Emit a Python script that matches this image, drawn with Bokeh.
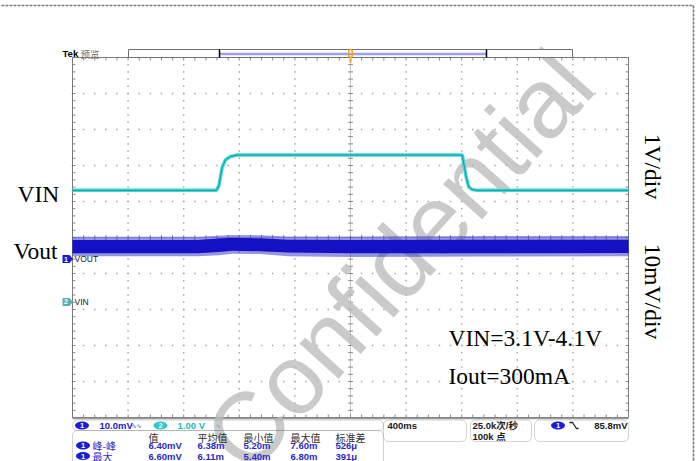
import math
from bokeh.plotting import figure
from bokeh.models import Range1d, BoxAnnotation
from bokeh.core.properties import value
from bokeh.embed import file_html
from bokeh.resources import INLINE

# ---------------- values ----------------
# CH2 : VIN (V) versus time (s)
vin_t = [0.0, 1.036, 1.053, 1.077, 1.101, 1.137, 1.185, 1.30, 2.804, 2.815, 2.832, 2.851, 2.876, 2.911, 4.0]
vin_v = [3.10, 3.10, 3.23, 3.74, 3.95, 4.04, 4.08, 4.08, 4.08, 3.84, 3.47, 3.19, 3.12, 3.10, 3.10]

# CH1 : Vout ripple envelope (mV above the CH1 position marker) versus time (s)
vout_t = [0.0, 0.90, 1.05, 1.15, 1.35, 1.55, 2.00, 3.00, 4.00]
vout_band_hi = [5.3, 5.3, 5.7, 5.9, 5.8, 5.4, 5.3, 5.4, 5.4]
vout_band_lo = [1.6, 1.6, 2.0, 2.3, 2.2, 1.8, 1.6, 1.6, 1.7]
vout_spike_hi = [6.2, 6.2, 6.5, 6.7, 6.6, 6.3, 6.3, 6.4, 6.4]
vout_spike_lo = [0.8, 0.8, 1.1, 1.5, 1.4, 0.8, 0.6, 0.7, 0.8]

ch1_mv_per_div = 10.0
ch2_v_per_div = 1.0
ch1_pos_div = -0.60
ch2_pos_div = -1.79
time_per_div = 0.4
n_hdiv = 10
n_vdiv = 10

ch1_label = "10.0mV"
ch2_label = "1.00 V"
timebase_label = "400ms"
rate_labels = ["25.0k次/秒", "100k 点"]
trig_label = "85.8mV"
meas_headers = ["值", "平均值", "最小值", "最大值", "标准差"]
meas_names = ["峰-峰", "最大"]
meas_values = [["6.40mV", "6.38m", "5.20m", "7.60m", "526μ"],
               ["6.60mV", "6.11m", "5.40m", "6.80m", "391μ"]]
note_lines = ["VIN=3.1V-4.1V", "Iout=300mA"]
scale_notes = ["1V/div", "10mV/div"]
trace_names = ["VIN", "Vout"]
watermark = "Confidential"

# ---------------- layout (picture pixels) ----------------
W, H = 697, 461
G_L, G_R, G_T, G_B = 72, 628, 57, 417
SX = (G_R - G_L) / (n_hdiv * time_per_div)   # px per second
SY = (G_B - G_T) / n_vdiv                    # px per division
G_C = (G_T + G_B) / 2


def X(px):
    return (px - G_L) / SX


def Y(py):
    return (G_C - py) / SY


def DX(px):
    return px / SX


def DY(py):
    return py / SY


p = figure(width=W, height=H,
           x_range=Range1d(X(0), X(W)), y_range=Range1d(Y(H), Y(0)),
           x_axis_type=None, y_axis_type=None,
           output_backend="svg", toolbar_location=None,
           min_border=0, outline_line_color=None)
p.grid.visible = False
p.background_fill_color = "white"
p.border_fill_color = "white"

T_END = n_hdiv * time_per_div
HALF = n_vdiv / 2

# ---------------- graticule ----------------
dx_, dy_ = [], []
for i in range(1, n_hdiv):
    if i == n_hdiv // 2:
        continue
    for k in range(n_vdiv * 5 + 1):
        dx_.append(i * time_per_div)
        dy_.append(-HALF + k * 0.2)
for j in range(1, n_vdiv):
    if j == n_vdiv // 2:
        continue
    for k in range(n_hdiv * 5 + 1):
        dx_.append(k * time_per_div / 5)
        dy_.append(-HALF + j)
p.scatter(dx_, dy_, marker="square", size=1.5, fill_color="#a8a8a8", line_color=None)

# center cross with minor ticks
p.segment(x0=[T_END / 2, 0], y0=[-HALF, 0], x1=[T_END / 2, T_END], y1=[HALF, 0],
          line_color="#c4c4c4", line_width=1)
tx0, ty0, tx1, ty1 = [], [], [], []
for k in range(n_vdiv * 5 + 1):
    yy = -HALF + k * 0.2
    tx0.append(T_END / 2 - DX(2.5)); tx1.append(T_END / 2 + DX(2.5)); ty0.append(yy); ty1.append(yy)
    tx0.append(0); tx1.append(DX(3)); ty0.append(yy); ty1.append(yy)
    tx0.append(T_END - DX(3)); tx1.append(T_END); ty0.append(yy); ty1.append(yy)
for k in range(n_hdiv * 5 + 1):
    xx = k * time_per_div / 5
    tx0.append(xx); tx1.append(xx); ty0.append(-DY(2.5)); ty1.append(DY(2.5))
    tx0.append(xx); tx1.append(xx); ty0.append(HALF); ty1.append(HALF - DY(3))
    tx0.append(xx); tx1.append(xx); ty0.append(-HALF); ty1.append(-HALF + DY(3))
p.segment(x0=tx0, y0=ty0, x1=tx1, y1=ty1, line_color="#8c8c8c", line_width=1)
p.quad(left=[0], right=[T_END], bottom=[-HALF], top=[HALF], fill_alpha=0,
       line_color="#7a7a7a", line_width=1)
p.segment(x0=[0], y0=[-HALF - DY(1)], x1=[T_END], y1=[-HALF - DY(1)], line_color="#9a9a9a", line_width=1.5)

# dashed frame of the original page
p.line(x=[X(1), X(693), X(693)], y=[Y(5), Y(5), Y(461)],
       line_color="#7a7a7a", line_width=1.6, line_dash="3 1")

# ---------------- watermark ----------------
p.text(x=[X(398)], y=[Y(260)], text=[watermark], angle=[math.radians(48)],
       text_font=value("Liberation Sans"), text_font_size="99px",
       text_align="center", text_baseline="middle",
       text_color="#bdbdbd", text_alpha=0.8)

# ---------------- traces ----------------
def ch1(vals):
    return [ch1_pos_div + v / ch1_mv_per_div for v in vals]


def ch2(vals):
    return [ch2_pos_div + v / ch2_v_per_div for v in vals]


p.varea(x=vout_t, y1=ch1(vout_spike_lo), y2=ch1(vout_spike_hi), fill_color="#2c2cc8", fill_alpha=0.5)
p.varea(x=vout_t, y1=ch1(vout_band_lo), y2=ch1(vout_band_hi), fill_color="#1212c2", fill_alpha=1.0)
p.line(vin_t, ch2(vin_v), line_color="#40d8d8", line_width=3.5)
p.line(vin_t, ch2(vin_v), line_color="#159a9a", line_width=1.0)

# ---------------- channel markers on the left ----------------
def marker(yc):
    xs = [X(62), X(69), X(72.5), X(69), X(62)]
    ys = [yc + DY(4), yc + DY(4), yc, yc - DY(4), yc - DY(4)]
    return xs, ys


m1 = marker(ch1_pos_div)
m2 = marker(ch2_pos_div)
p.patches(xs=[m1[0], m2[0]], ys=[m1[1], m2[1]], fill_color=["#1c1cd8", "#55b2ae"], line_color=None)
p.text(x=[X(65.5), X(65.5)], y=[ch1_pos_div, ch2_pos_div], text=["1", "2"],
       text_font=value("Liberation Sans"), text_font_size="7px", text_color="white",
       text_align="center", text_baseline="middle", text_font_style="bold")
p.text(x=[X(74), X(74)], y=[ch1_pos_div, ch2_pos_div], text=["VOUT", "VIN"],
       text_font=value("Liberation Sans"), text_font_size="8.5px", text_color="#222222",
       text_align="left", text_baseline="middle")

# ---------------- big annotation texts ----------------
serif = value("Liberation Serif")
p.text(x=[X(17), X(13)], y=[Y(193), Y(250)], text=trace_names, text_font=serif,
       text_font_size="23.5px", text_color="black", text_align="left", text_baseline="alphabetic")
p.text(x=[X(448), X(448)], y=[Y(337), Y(375)], text=note_lines, text_font=serif,
       text_font_size="23.5px", text_color="black", text_align="left", text_baseline="alphabetic")
p.text(x=[X(652), X(652)], y=[Y(166), Y(291)], text=scale_notes, text_font=serif,
       text_font_size="23.5px", text_color="black", text_align="center", text_baseline="middle",
       angle=[-math.pi / 2, -math.pi / 2])

# ---------------- top record bar ----------------
p.quad(left=[X(128)], right=[X(572)], top=[Y(49)], bottom=[Y(57)], fill_color="white",
       line_color="#707070", line_width=1)
p.segment(x0=[X(219)], y0=[Y(53.5)], x1=[X(486)], y1=[Y(53.5)], line_color="#a0a0ee", line_width=2.5)
p.segment(x0=[X(219), X(486)], y0=[Y(49), Y(49)], x1=[X(219), X(486)], y1=[Y(57), Y(57)],
          line_color="black", line_width=1.5)
p.ellipse(x=[T_END / 2], y=[Y(53)], width=DX(4), height=DY(8), fill_alpha=0,
          line_color="#f0a020", line_width=1.5)
p.segment(x0=[T_END / 2], y0=[HALF], x1=[T_END / 2], y1=[HALF - DY(5)], line_color="#f0a020", line_width=2)
p.text(x=[X(62)], y=[Y(53)], text=["Tek"], text_font=value("Liberation Sans"), text_font_size="9.5px",
       text_font_style="bold", text_color="black", text_baseline="middle")
p.text(x=[X(80)], y=[Y(53)], text=["预览"], text_font=value("Noto Sans CJK SC"), text_font_size="9.5px",
       text_color="#707070", text_baseline="middle")

# ---------------- bottom status area ----------------
for l, r, t, b in [(72, 383, 419.5, 430), (72, 383, 430, 475), (383, 466, 419.5, 441),
                   (470, 531, 419.5, 441), (534, 628, 419.5, 441)]:
    p.add_layout(BoxAnnotation(left=X(l), right=X(r), top=Y(t), bottom=Y(b), fill_alpha=0,
                               line_color="#707070", line_width=1, border_radius=5))

badge_x = [X(81.5), X(160), X(82.5), X(82.5), X(557.5)]
badge_y = [Y(425), Y(425), Y(445), Y(455.5), Y(425)]
badge_c = ["#1c1cd8", "#30c8c8", "#1c1cd8", "#1c1cd8", "#1c1cd8"]
badge_t = ["1", "2", "1", "1", "1"]
p.ellipse(x=badge_x, y=badge_y, width=DX(14), height=DY(8), fill_color=badge_c, line_color=None)
p.text(x=badge_x, y=badge_y, text=badge_t, text_font=value("Liberation Sans"), text_font_size="7.5px",
       text_font_style="bold", text_color="white", text_align="center", text_baseline="middle")

mono = value("Liberation Sans")
cjk = value("Noto Sans CJK SC")
p.text(x=[X(99)], y=[Y(425)], text=[ch1_label], text_font=mono, text_font_size="9.5px",
       text_font_style="bold", text_color="#2222c0", text_baseline="middle")
p.text(x=[X(131)], y=[Y(425)], text=["∿∿"], text_font=value("DejaVu Sans"), text_font_size="6px",
       text_color="#2222c0", text_baseline="middle")
p.text(x=[X(177)], y=[Y(425)], text=[ch2_label], text_font=mono, text_font_size="9.5px",
       text_font_style="bold", text_color="#22b8c0", text_baseline="middle")
p.text(x=[X(215)], y=[Y(425)], text=["∿"], text_font=value("DejaVu Sans"), text_font_size="6px",
       text_color="#22b8c0", text_baseline="middle")

col_x = [X(148), X(197), X(243), X(290), X(335)]
p.text(x=col_x, y=[Y(436.5)] * 5, text=meas_headers, text_font=cjk, text_font_size="10px",
       text_color="#303030", text_baseline="middle")
for r, yy in enumerate([445, 455.5]):
    p.text(x=[X(92)], y=[Y(yy)], text=[meas_names[r]], text_font=cjk, text_font_size="10px",
           text_color="#2a2ac8", text_baseline="middle")
    p.text(x=col_x, y=[Y(yy)] * 5, text=meas_values[r], text_font=mono, text_font_size="9.5px",
           text_font_style="bold", text_color="#2a2ac8", text_baseline="middle")

p.text(x=[X(387)], y=[Y(425)], text=[timebase_label], text_font=mono, text_font_size="9.5px",
       text_font_style="bold", text_color="#202020", text_baseline="middle")
p.text(x=[X(472), X(472)], y=[Y(425), Y(436)], text=rate_labels,
       text_font=value("Liberation Sans, Noto Sans CJK SC"), text_font_size="9.5px",
       text_font_style="bold", text_color="#202020", text_baseline="middle")
p.line(x=[X(569), X(572), X(576), X(578)], y=[Y(422), Y(422), Y(428), Y(428)],
       line_color="#202020", line_width=1.3)
p.text(x=[X(627)], y=[Y(425)], text=[trig_label], text_font=mono, text_font_size="9.5px",
       text_font_style="bold", text_color="#202020", text_baseline="middle", text_align="right")

open("out.html", "w").write(file_html(p, INLINE))
